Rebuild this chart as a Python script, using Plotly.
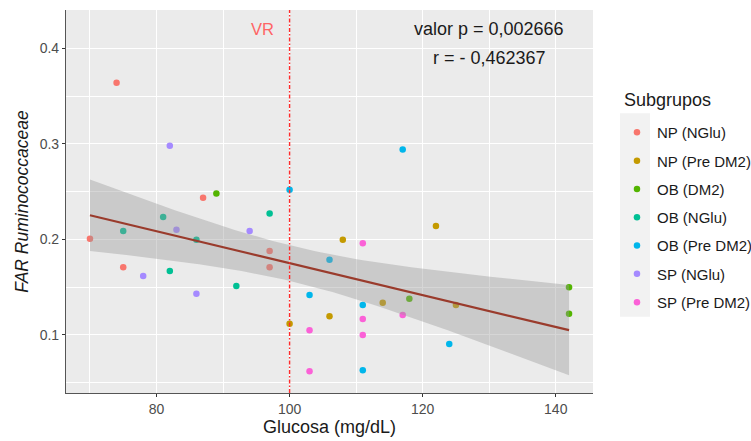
import numpy as np
import plotly.graph_objects as go

groups = ["NP (NGlu)", "NP (Pre DM2)", "OB (DM2)", "OB (NGlu)", "OB (Pre DM2)", "SP (NGlu)", "SP (Pre DM2)"]
colors = ["#F8766D", "#C49A00", "#53B400", "#00C094", "#00B6EB", "#A58AFF", "#FB61D7"]

np_nglu_x = [74, 87, 70, 97, 97, 75]
np_nglu_y = [0.364, 0.2436, 0.2007, 0.1879, 0.1708, 0.1708]
np_pre_x = [122, 108, 114, 125, 106, 100]
np_pre_y = [0.214, 0.1997, 0.1338, 0.1314, 0.1196, 0.1118]
ob_dm2_x = [89, 142, 118, 142]
ob_dm2_y = [0.248, 0.150, 0.138, 0.1223]
ob_nglu_x = [97, 81, 75, 86, 82, 92]
ob_nglu_y = [0.227, 0.2234, 0.2088, 0.1997, 0.167, 0.1513]
ob_pre_x = [100, 117, 106, 103, 111, 124, 111]
ob_pre_y = [0.252, 0.294, 0.1788, 0.1418, 0.1314, 0.0906, 0.0631]
sp_nglu_x = [82, 83, 94, 78, 86]
sp_nglu_y = [0.298, 0.210, 0.2088, 0.1617, 0.1432]
sp_pre_x = [111, 117, 111, 103, 111, 103]
sp_pre_y = [0.196, 0.121, 0.1167, 0.105, 0.100, 0.062]

xs = [np_nglu_x, np_pre_x, ob_dm2_x, ob_nglu_x, ob_pre_x, sp_nglu_x, sp_pre_x]
ys = [np_nglu_y, np_pre_y, ob_dm2_y, ob_nglu_y, ob_pre_y, sp_nglu_y, sp_pre_y]

vr_x = 100
p_text = "valor p = 0,002666"
r_text = "r = - 0,462367"

FONT = "Liberation Sans, Arial, sans-serif"

fig = go.Figure()
for g, c, x, y in zip(groups, colors, xs, ys):
    fig.add_trace(go.Scatter(x=x, y=y, mode="markers", name=g, legendgroup=g,
                             marker=dict(color=c, size=6.5, line=dict(width=0))))

# linear fit with 95% CI (as geom_smooth(method="lm"))
ax = np.concatenate([np.array(v, float) for v in xs])
ay = np.concatenate([np.array(v, float) for v in ys])
n = len(ax)
b1, b0 = np.polyfit(ax, ay, 1)
resid = ay - (b0 + b1 * ax)
s = np.sqrt(np.sum(resid ** 2) / (n - 2))
sxx = np.sum((ax - ax.mean()) ** 2)
gx = np.linspace(ax.min(), ax.max(), 80)
gy = b0 + b1 * gx
t_crit = 2.0244
se = s * np.sqrt(1 / n + (gx - ax.mean()) ** 2 / sxx)
lo = gy - t_crit * se
hi = gy + t_crit * se

fig.add_trace(go.Scatter(x=np.concatenate([gx, gx[::-1]]), y=np.concatenate([hi, lo[::-1]]),
                         fill="toself", fillcolor="rgba(153,153,153,0.4)", line=dict(width=0),
                         mode="lines", showlegend=False, hoverinfo="skip"))
fig.add_trace(go.Scatter(x=gx, y=gy, mode="lines", line=dict(color="#9A3B2C", width=2.2),
                         showlegend=False, hoverinfo="skip"))

fig.add_shape(type="line", x0=vr_x, x1=vr_x, y0=0, y1=1, xref="x", yref="paper",
              line=dict(color="#FF2A2A", width=1.4, dash="4px,2px,1.5px,2px"))
fig.add_annotation(x=96, y=0.42, text="VR", showarrow=False,
                   font=dict(family=FONT, size=16.5, color="#FF6464"))
fig.add_annotation(x=130, y=0.42, text=p_text, showarrow=False,
                   font=dict(family=FONT, size=18, color="#1A1A1A"))
fig.add_annotation(x=130, y=0.39, text=r_text, showarrow=False,
                   font=dict(family=FONT, size=18, color="#1A1A1A"))

# legend title and key background
fig.add_annotation(xref="paper", yref="paper", x=1.0545, y=0.765, xanchor="left", yanchor="middle",
                   text="Subgrupos", showarrow=False, font=dict(family=FONT, size=18, color="#1A1A1A"))
fig.add_shape(type="rect", xref="paper", yref="paper", x0=1.0512, x1=1.1082, y0=0.1992, y1=0.7303,
              fillcolor="#F2F2F2", line=dict(width=0), layer="below")

fig.update_layout(
    width=751, height=441,
    margin=dict(l=66, r=158, t=10, b=48, autoexpand=False),
    paper_bgcolor="white", plot_bgcolor="#EBEBEB",
    font=dict(family=FONT, color="#1A1A1A"),
    legend=dict(x=1.0455, xanchor="left", y=0.723, yanchor="top",
                font=dict(size=15, color="#1A1A1A"), tracegroupgap=5.8,
                bgcolor="rgba(0,0,0,0)"),
    showlegend=True,
)
fig.update_xaxes(range=[66.4, 145.6], tick0=0, dtick=20, showgrid=True, gridcolor="white", gridwidth=1.1,
                 minor=dict(dtick=10, showgrid=True, gridcolor="white", gridwidth=0.55),
                 zeroline=False, showline=True, linecolor="#555555", linewidth=1.2,
                 ticks="outside", ticklen=3, tickcolor="#333333",
                 tickfont=dict(size=14, color="#4D4D4D"),
                 title=dict(text="Glucosa (mg/dL)", font=dict(size=18, color="#1A1A1A"), standoff=3))
fig.update_yaxes(range=[0.0393, 0.44], tick0=0, dtick=0.1, tickformat=".1f", showgrid=True,
                 gridcolor="white", gridwidth=1.1,
                 minor=dict(dtick=0.05, showgrid=True, gridcolor="white", gridwidth=0.55),
                 zeroline=False, showline=True, linecolor="#555555", linewidth=1.2,
                 ticks="outside", ticklen=3, tickcolor="#333333",
                 tickfont=dict(size=14, color="#4D4D4D"),
                 title=dict(text="<i>FAR Ruminococcaceae</i>", font=dict(size=17.5, color="#1A1A1A"), standoff=6))

fig.write_html("out.html")
